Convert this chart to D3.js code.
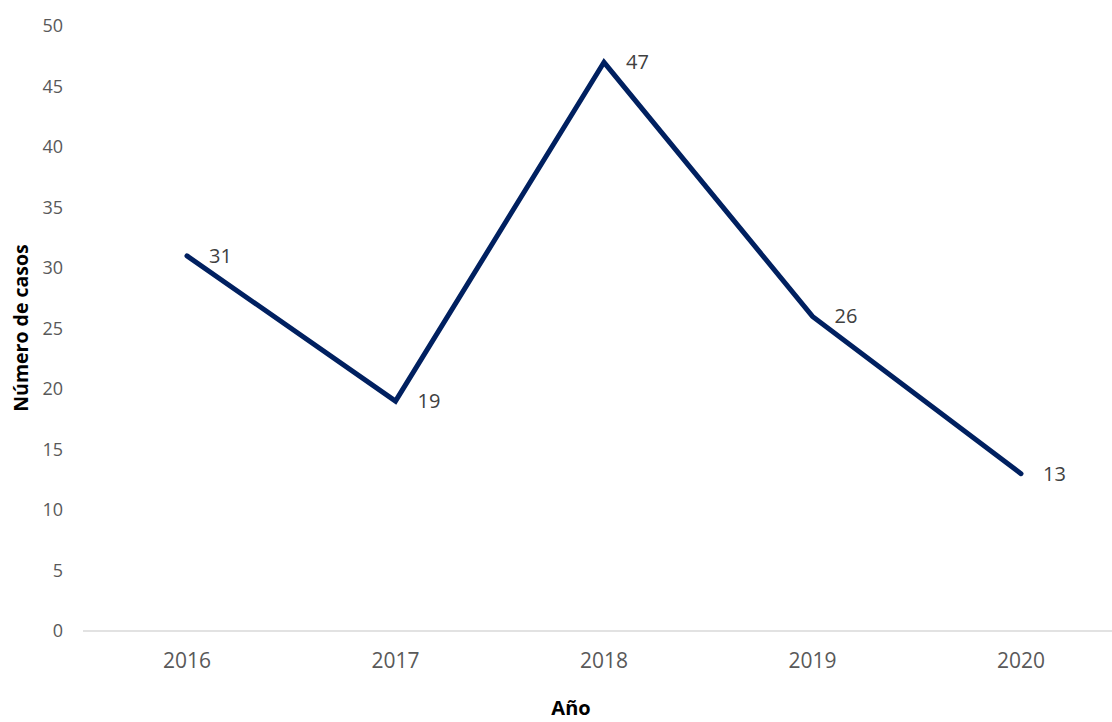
<!DOCTYPE html>
<html><head><meta charset="utf-8">
<script src="https://cdn.jsdelivr.net/npm/d3@7"></script>
<style>body{margin:0;background:#fff}svg{display:block}</style>
</head><body>
<svg id="c" width="1112" height="722"></svg>
<script>
const years = ["2016","2017","2018","2019","2020"];
const casos = [31, 19, 47, 26, 13];
const yTicks = [0,5,10,15,20,25,30,35,40,45,50];

const svg = d3.select("#c");
const font = "'Open Sans', sans-serif";
const x = d3.scalePoint().domain(years).range([187, 1021]);
const y = d3.scaleLinear().domain([0, 50]).range([631, 26]);

// x axis line
svg.append("line").attr("x1", 83).attr("x2", 1112).attr("y1", y(0)).attr("y2", y(0))
  .attr("stroke", "#d9d9d9").attr("stroke-width", 1.5);

// y tick labels
svg.append("g").selectAll("text").data(yTicks).join("text")
  .attr("x", 63).attr("y", d => y(d)).attr("dy", "0.35em")
  .attr("text-anchor", "end").attr("font-family", font).attr("font-size", 18)
  .attr("fill", "#595959").text(d => d);

// x tick labels
svg.append("g").selectAll("text").data(years).join("text")
  .attr("x", d => x(d)).attr("y", 661).attr("dy", "0.35em")
  .attr("text-anchor", "middle").attr("font-family", font).attr("font-size", 21)
  .attr("fill", "#595959").text(d => d);

// line
const data = years.map((yr, i) => ({yr, v: casos[i]}));
svg.append("path").datum(data)
  .attr("d", d3.line().x(d => x(d.yr)).y(d => y(d.v)))
  .attr("fill", "none").attr("stroke", "#002060").attr("stroke-width", 5)
  .attr("stroke-linecap", "round").attr("stroke-linejoin", "miter");

// data labels
svg.append("g").selectAll("text").data(data).join("text")
  .attr("x", d => x(d.yr) + 22).attr("y", d => y(d.v)).attr("dy", "0.35em")
  .attr("font-family", font).attr("font-size", 20).attr("fill", "#404040")
  .text(d => d.v);

// axis titles
svg.append("text").attr("x", 571).attr("y", 715)
  .attr("text-anchor", "middle").attr("font-family", font).attr("font-weight", "bold")
  .attr("font-size", 20).attr("fill", "#000").text("Año");
svg.append("text").attr("transform", "translate(21,328) rotate(-90)").attr("dy", "0.35em")
  .attr("text-anchor", "middle").attr("font-family", font).attr("font-weight", "bold")
  .attr("font-size", 19.5).attr("fill", "#000").text("Número de casos");
</script>
</body></html>
